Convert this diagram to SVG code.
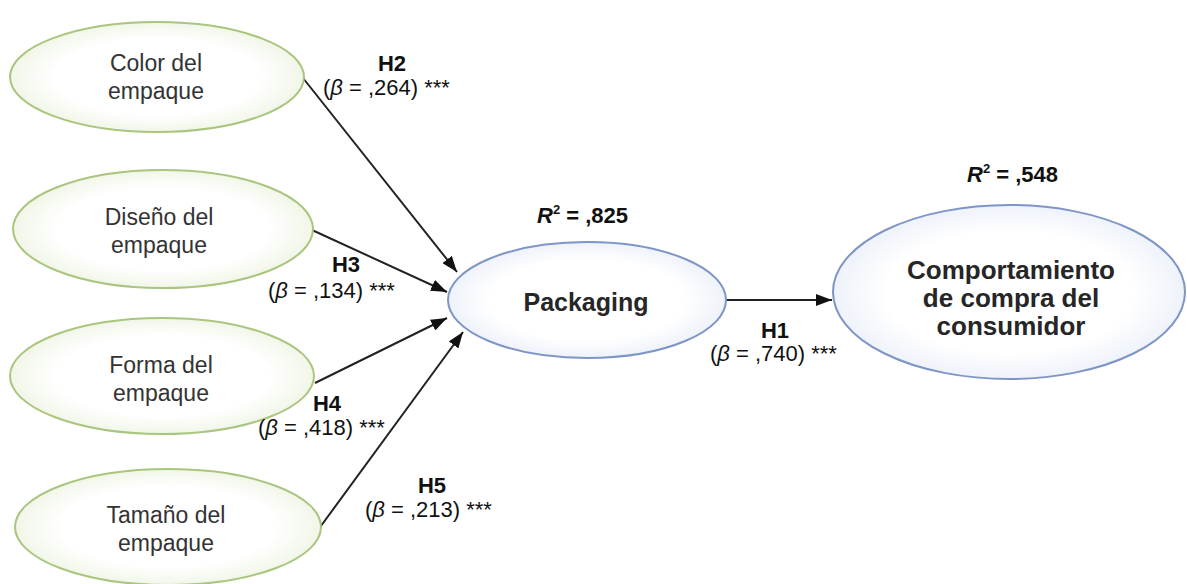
<svg xmlns="http://www.w3.org/2000/svg" width="1187" height="584" viewBox="0 0 1187 584">
<style>
.g{fill:url(#gg);stroke:#a9c57e;stroke-width:2}
.b{fill:url(#bg);stroke:#7e95c6;stroke-width:2}
.nt{font-family:"Liberation Sans",Arial,sans-serif;font-size:23px;fill:#333;text-anchor:middle}
.bt{font-family:"Liberation Sans",Arial,sans-serif;font-size:26px;font-weight:bold;fill:#262626;text-anchor:middle}
.lb{font-family:"Liberation Sans",Arial,sans-serif;font-size:22px;fill:#111}
.h{font-weight:bold;text-anchor:middle}
.c{stroke:#222;stroke-width:2;fill:none;marker-end:url(#ah)}
</style>
<defs>
<radialGradient id="gg" cx="50%" cy="50%" r="50%"><stop offset="0.7" stop-color="#ffffff"/><stop offset="1" stop-color="#f1f6e8"/></radialGradient>
<radialGradient id="bg" cx="50%" cy="50%" r="50%"><stop offset="0.7" stop-color="#ffffff"/><stop offset="1" stop-color="#eef2fa"/></radialGradient>
<marker id="ah" viewBox="0 0 16 12" refX="16" refY="6" markerWidth="16" markerHeight="12" markerUnits="userSpaceOnUse" orient="auto"><path d="M0,0 L16,6 L0,12 Z" fill="#111"/></marker>
</defs>
<rect width="1187" height="584" fill="#fff"/>
<g id="connectors">
<line class="c" x1="303" y1="78" x2="457" y2="272"/>
<line class="c" x1="312" y1="230" x2="447" y2="292"/>
<line class="c" x1="315" y1="383" x2="447" y2="318"/>
<line class="c" x1="318" y1="530" x2="463" y2="332"/>
<line class="c" x1="726" y1="300" x2="832" y2="300"/>
</g>
<g id="n-color"><ellipse class="g" cx="157" cy="77" rx="147" ry="55"/><text class="nt" x="156" y="71">Color del</text><text class="nt" x="156" y="99">empaque</text></g>
<g id="n-diseno"><ellipse class="g" cx="163" cy="229" rx="150" ry="59"/><text class="nt" x="159" y="225">Diseño del</text><text class="nt" x="159" y="253">empaque</text></g>
<g id="n-forma"><ellipse class="g" cx="162" cy="376" rx="152" ry="58"/><text class="nt" x="161" y="373">Forma del</text><text class="nt" x="161" y="401">empaque</text></g>
<g id="n-tamano"><ellipse class="g" cx="168" cy="527" rx="153" ry="58"/><text class="nt" x="166" y="523">Tamaño del</text><text class="nt" x="166" y="551">empaque</text></g>
<g id="n-packaging"><ellipse class="b" cx="587" cy="300" rx="139" ry="58"/><text class="bt" x="586" y="311" style="font-size:25px">Packaging</text></g>
<g id="n-comportamiento"><ellipse class="b" cx="1009" cy="292" rx="176" ry="87"/><text class="bt" x="1011" y="279">Comportamiento</text><text class="bt" x="1011" y="307">de compra del</text><text class="bt" x="1011" y="335">consumidor</text></g>
<g id="labels">
<text class="lb h" x="392" y="71">H2</text>
<text class="lb" x="323" y="95">(<tspan font-style="italic">β</tspan> = ,264) ***</text>
<text class="lb h" x="346" y="272">H3</text>
<text class="lb" x="268" y="298">(<tspan font-style="italic">β</tspan> = ,134) ***</text>
<text class="lb h" x="327" y="411">H4</text>
<text class="lb" x="258" y="435">(<tspan font-style="italic">β</tspan> = ,418) ***</text>
<text class="lb h" x="432" y="493">H5</text>
<text class="lb" x="365" y="517">(<tspan font-style="italic">β</tspan> = ,213) ***</text>
<text class="lb h" x="775" y="338">H1</text>
<text class="lb" x="710" y="361">(<tspan font-style="italic">β</tspan> = ,740) ***</text>
<text class="lb" x="537" y="223" font-weight="bold"><tspan font-style="italic">R</tspan><tspan font-size="13" dy="-9">2</tspan><tspan dy="9"> = ,825</tspan></text>
<text class="lb" x="967" y="182" font-weight="bold"><tspan font-style="italic">R</tspan><tspan font-size="13" dy="-9">2</tspan><tspan dy="9"> = ,548</tspan></text>
</g>
</svg>
